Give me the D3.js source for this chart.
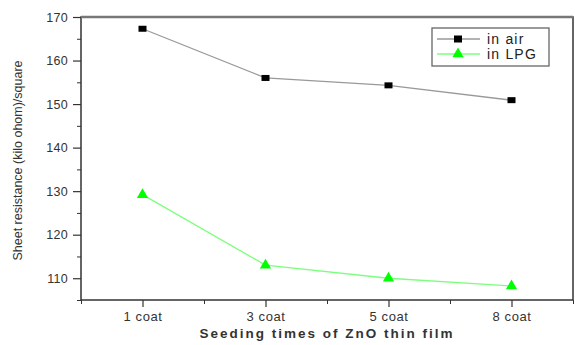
<!DOCTYPE html>
<html>
<head>
<meta charset="utf-8">
<script src="https://cdn.jsdelivr.net/npm/d3@7"></script>
<style>
  body { margin: 0; background: #fff; }
  text { font-family: "Liberation Sans", Arial, sans-serif; }
</style>
</head>
<body>
<div id="chart"></div>
<script>
const categories = ['1 coat', '3 coat', '5 coat', '8 coat'];
const airValues = [167.3, 156.0, 154.3, 150.9];
const lpgValues = [129.2, 113.0, 110.0, 108.2];
const yTicks = [110, 120, 130, 140, 150, 160, 170];

const w = 575;
const h = 345;
const m = { left: 81, right: 2, top: 17, bottom: 45 };

const svg = d3.select('#chart')
    .append('svg')
    .attr('width', w)
    .attr('height', h);

const x = d3.scaleLinear()
    .domain([-0.5, categories.length - 0.5])
    .range([m.left, w - m.right]);

const y = d3.scaleLinear()
    .domain([105, 170])
    .range([h - m.bottom, m.top]);

// frame
svg.append('rect')
    .attr('x', m.left)
    .attr('y', m.top)
    .attr('width', w - m.right - m.left)
    .attr('height', h - m.bottom - m.top)
    .attr('fill', 'none')
    .attr('stroke', '#333')
    .attr('stroke-width', 1.5);

svg.append('line')
    .attr('x1', m.left).attr('x2', w - m.right)
    .attr('y1', m.top).attr('y2', m.top)
    .attr('stroke', '#777').attr('stroke-width', 2.5);

// y axis
const yAxis = d3.axisLeft(y)
    .tickValues(yTicks)
    .tickSize(8)
    .tickPadding(5);
const gy = svg.append('g')
    .attr('transform', `translate(${m.left},0)`)
    .call(yAxis);
gy.select('.domain').remove();
gy.selectAll('line').attr('stroke', '#333').attr('stroke-width', 1.2);
gy.selectAll('text').attr('font-size', 12.5).attr('letter-spacing', 0.3).attr('fill', '#333');

const gyMinor = svg.append('g')
    .attr('transform', `translate(${m.left},0)`)
    .call(d3.axisLeft(y).tickValues(d3.range(105, 170, 10)).tickSize(4).tickFormat(''));
gyMinor.select('.domain').remove();
gyMinor.selectAll('line').attr('stroke', '#333');

// x axis
const xAxis = d3.axisBottom(x)
    .tickValues(d3.range(categories.length))
    .tickFormat((d) => categories[d])
    .tickSize(7)
    .tickPadding(5);
const gx = svg.append('g')
    .attr('transform', `translate(0,${h - m.bottom})`)
    .call(xAxis);
gx.select('.domain').remove();
gx.selectAll('line').attr('stroke', '#333').attr('stroke-width', 1.2);
gx.selectAll('text').attr('font-size', 13).attr('letter-spacing', 0.6).attr('fill', '#333');

const gxMinor = svg.append('g')
    .attr('transform', `translate(0,${h - m.bottom})`)
    .call(d3.axisBottom(x).tickValues(d3.range(-0.5, categories.length, 1)).tickSize(4).tickFormat(''));
gxMinor.select('.domain').remove();
gxMinor.selectAll('line').attr('stroke', '#333');

// axis titles
svg.append('text')
    .attr('x', 327)
    .attr('y', 338)
    .attr('text-anchor', 'middle')
    .attr('font-size', 13.5)
    .attr('font-weight', 'bold')
    .attr('letter-spacing', 2)
    .attr('fill', '#333')
    .text('Seeding times of ZnO thin film');

svg.append('text')
    .attr('transform', `translate(22,${(m.top + h - m.bottom) / 2 + 2}) rotate(-90)`)
    .attr('text-anchor', 'middle')
    .attr('font-size', 12.5)
    .attr('fill', '#333')
    .text('Sheet resistance (kilo ohom)/square');

// series
const line = d3.line()
    .x((d, i) => x(i))
    .y((d) => y(d));

svg.append('path')
    .datum(airValues)
    .attr('d', line)
    .attr('fill', 'none')
    .attr('stroke', '#999')
    .attr('stroke-width', 1.3);

svg.append('path')
    .datum(lpgValues)
    .attr('d', line)
    .attr('fill', 'none')
    .attr('stroke', '#7dff7d')
    .attr('stroke-width', 1.3);

svg.selectAll('.sq')
    .data(airValues)
    .enter()
    .append('rect')
    .attr('x', (d, i) => x(i) - 4)
    .attr('y', (d) => y(d) - 3)
    .attr('width', 8)
    .attr('height', 6)
    .attr('fill', '#000');

const tri = d3.symbol().type(d3.symbolTriangle).size(55);
svg.selectAll('.tri')
    .data(lpgValues)
    .enter()
    .append('path')
    .attr('transform', (d, i) => `translate(${x(i)},${y(d)})`)
    .attr('d', tri)
    .attr('fill', '#00ff00');

// legend
const lg = svg.append('g');
lg.append('rect')
    .attr('x', 432).attr('y', 28)
    .attr('width', 117).attr('height', 38)
    .attr('fill', '#fff')
    .attr('stroke', '#666')
    .attr('stroke-width', 1.3);

lg.append('line')
    .attr('x1', 437).attr('x2', 480).attr('y1', 39).attr('y2', 39)
    .attr('stroke', '#999').attr('stroke-width', 1.3);
lg.append('rect')
    .attr('x', 454).attr('y', 35.5).attr('width', 8).attr('height', 7)
    .attr('fill', '#000');
lg.append('text')
    .attr('x', 487).attr('y', 44)
    .attr('font-size', 14).attr('letter-spacing', 1.2).attr('fill', '#222')
    .text('in air');

lg.append('line')
    .attr('x1', 437).attr('x2', 480).attr('y1', 54).attr('y2', 54)
    .attr('stroke', '#7dff7d').attr('stroke-width', 1.3);
lg.append('path')
    .attr('transform', 'translate(458,54)')
    .attr('d', tri)
    .attr('fill', '#00ff00');
lg.append('text')
    .attr('x', 487).attr('y', 59)
    .attr('font-size', 14).attr('letter-spacing', 1.2).attr('fill', '#222')
    .text('in LPG');
</script>
</body>
</html>
